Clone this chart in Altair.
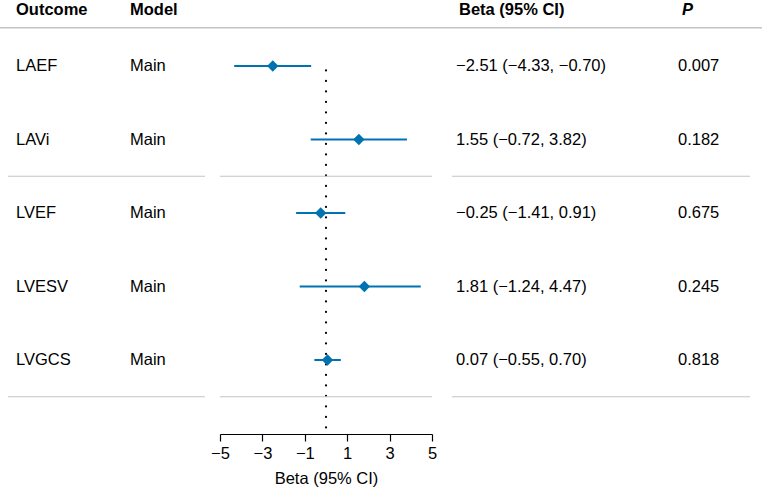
import altair as alt
import pandas as pd

outcomes = ["LAEF", "LAVi", "LVEF", "LVESV", "LVGCS"]
models = ["Main", "Main", "Main", "Main", "Main"]
beta = [-2.51, 1.55, -0.25, 1.81, 0.07]
lower = [-4.33, -0.72, -1.41, -1.24, -0.55]
upper = [-0.70, 3.82, 0.91, 4.47, 0.70]
ci_text = ["\u22122.51 (\u22124.33, \u22120.70)", "1.55 (\u22120.72, 3.82)",
           "\u22120.25 (\u22121.41, 0.91)", "1.81 (\u22121.24, 4.47)",
           "0.07 (\u22120.55, 0.70)"]
p_text = ["0.007", "0.182", "0.675", "0.245", "0.818"]
headers = ["Outcome", "Model", "Beta (95% CI)", "P"]
x_ticks = [-5, -3, -1, 1, 3, 5]

df = pd.DataFrame({
    "row": list(range(len(outcomes))),
    "outcome": outcomes, "model": models,
    "beta": beta, "lower": lower, "upper": upper,
    "ci": ci_text, "p": p_text,
})

FONT = "Liberation Sans"
BLUE = "#0072B2"
GRAY = "#c4c4c4"

W, H = 762, 434
xs = alt.Scale(domain=[-5, 5], range=[220, 432], nice=False, zero=False)
ys = alt.Scale(domain=[0, 4], range=[66, 360], nice=False, zero=False)
xaxis = alt.Axis(values=x_ticks, title="Beta (95% CI)", grid=False, labelFlush=False,
                 labelExpr="replace(datum.label, '-', '\u2212')", format="d")


def Y(field):
    return alt.Y(field, scale=ys, axis=None)


base = alt.Chart(df)

# header texts
hdr_df = pd.DataFrame({"row": [-0.76], **{f"h{i}": [h] for i, h in enumerate(headers)}})
hdr_kw = dict(align="left", baseline="middle", font=FONT, fontSize=16.5, fontWeight="bold", color="black")
hdr_x = [16, 130, 459, 682]
hdr_layers = []
for i in range(len(headers)):
    kw = dict(hdr_kw)
    if headers[i] == "P":
        kw["fontStyle"] = "italic"
    hdr_layers.append(
        alt.Chart(hdr_df).mark_text(**kw).encode(
            x=alt.value(hdr_x[i]), y=Y("row:Q"), text=f"h{i}:N"
        )
    )

header_line = alt.Chart(pd.DataFrame({"row": [-0.52]})).mark_rule(
    color=GRAY, strokeWidth=1.5
).encode(x=alt.value(0), x2=alt.value(W), y=Y("row:Q"))

sep_rows = pd.DataFrame({"row": [1.5, 4.5]})
sep_layers = [
    alt.Chart(sep_rows).mark_rule(color=GRAY, strokeWidth=1.2).encode(
        x=alt.value(a), x2=alt.value(b), y=Y("row:Q")
    )
    for a, b in [(8, 205), (220, 432), (452, 750)]
]

txt_kw = dict(align="left", baseline="middle", font=FONT, fontSize=16.5, color="black")
t_out = base.mark_text(**txt_kw).encode(x=alt.value(16), y=Y("row:Q"), text="outcome:N")
t_mod = base.mark_text(**txt_kw).encode(x=alt.value(130), y=Y("row:Q"), text="model:N")
t_ci = base.mark_text(**txt_kw).encode(x=alt.value(456), y=Y("row:Q"), text="ci:N")
t_p = base.mark_text(**txt_kw).encode(x=alt.value(678), y=Y("row:Q"), text="p:N")

zero = alt.Chart(pd.DataFrame({"x": [0], "y0": [0.06], "y1": [5.0]})).mark_rule(
    color="black", strokeWidth=2.2, strokeDash=[0.1, 10.4], strokeCap="round"
).encode(
    x=alt.X("x:Q", scale=xs, axis=xaxis),
    y=Y("y0:Q"), y2="y1:Q",
)

ci = base.mark_rule(color=BLUE, strokeWidth=2).encode(
    x=alt.X("lower:Q", scale=xs, axis=xaxis), x2="upper:Q", y=Y("row:Q")
)
pts = base.mark_point(shape="diamond", filled=True, color=BLUE, size=130, opacity=1).encode(
    x=alt.X("beta:Q", scale=xs, axis=xaxis), y=Y("row:Q")
)

chart = alt.layer(
    zero, header_line, *sep_layers, *hdr_layers, t_out, t_mod, t_ci, t_p, ci, pts
).properties(
    width=W, height=H,
    padding={"left": 0, "top": 0, "right": 0, "bottom": 59},
    autosize=alt.AutoSizeParams(type="none"),
).configure_view(stroke=None).configure_axis(
    domainWidth=1.2, tickWidth=1.2, labelFont=FONT, titleFont=FONT,
    labelFontSize=16.5, titleFontSize=16.5, titleFontWeight="normal",
    labelColor="black", titleColor="black", domainColor="black", tickColor="black",
    tickSize=7, labelPadding=4, titlePadding=9,
)

chart.save("out.html", embed_options={"renderer": "svg", "actions": False})
